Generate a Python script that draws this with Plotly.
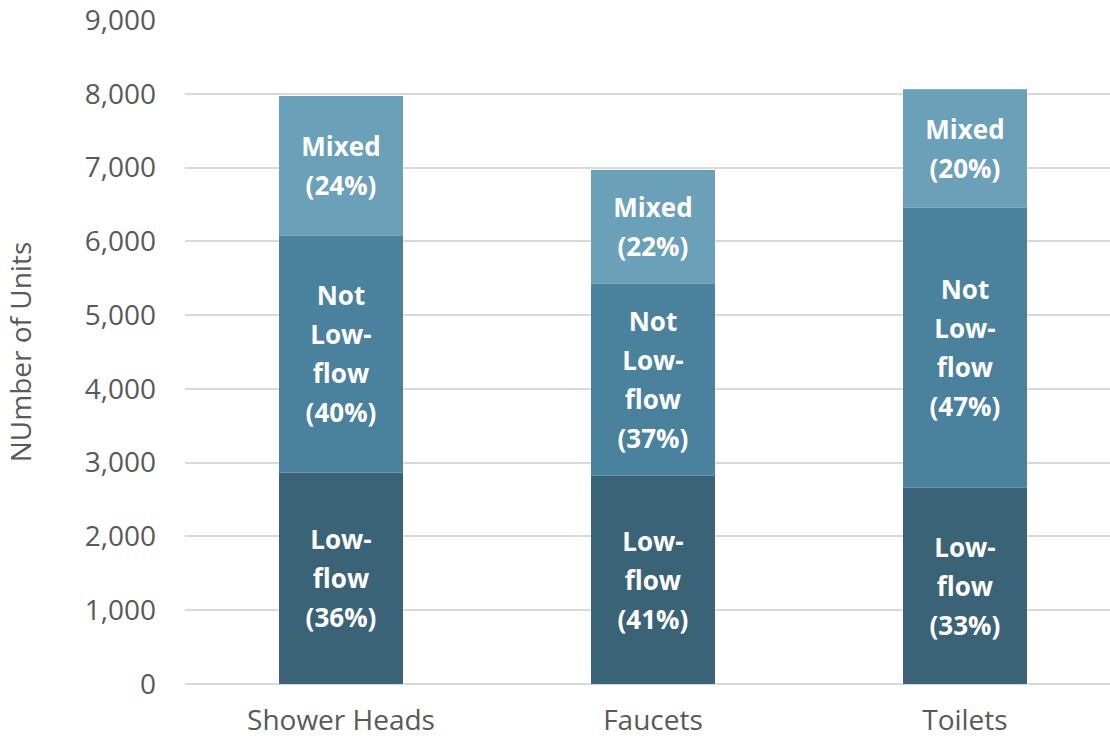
import plotly.graph_objects as go

categories = ["Shower Heads", "Faucets", "Toilets"]
series_names = ["Low-flow", "Not Low-flow", "Mixed"]
series_labels = [["Low-", "flow"], ["Not", "Low-", "flow"], ["Mixed"]]
low_flow = [2870, 2820, 2660]
not_low_flow = [3215, 2610, 3800]
mixed = [1885, 1540, 1600]
low_pct = [36, 41, 33]
not_low_pct = [40, 37, 47]
mixed_pct = [24, 22, 20]
colors = ["#3b6377", "#4a819d", "#6ba0b9"]
y_ticks = [0, 1000, 2000, 3000, 4000, 5000, 6000, 7000, 8000, 9000]

values = [low_flow, not_low_flow, mixed]
pcts = [low_pct, not_low_pct, mixed_pct]


def make_text(lines, pct):
    parts = lines + ["(%d%%)" % pct]
    return "<br>".join('<span style="font-size:26px">%s</span>' % p for p in parts)


fig = go.Figure()
for name, lines, vals, pc, col in zip(series_names, series_labels, values, pcts, colors):
    fig.add_trace(go.Bar(
        name=name,
        x=categories,
        y=vals,
        width=0.4,
        marker=dict(color=col, line=dict(color="rgba(255,255,255,0.18)", width=1)),
        text=[make_text(lines, p) for p in pc],
        textposition="inside",
        insidetextanchor="middle",
        textangle=0,
        textfont=dict(family="Open Sans", size=30, color="white", weight="bold"),
        hoverinfo="x+y+name",
    ))

fig.update_layout(
    barmode="stack",
    width=1110,
    height=739,
    margin=dict(l=185, r=0, t=20, b=55, autoexpand=False),
    paper_bgcolor="white",
    plot_bgcolor="white",
    showlegend=False,
    font=dict(family="Open Sans", color="#595959"),
    xaxis=dict(
        type="category",
        range=[-0.5, 2.465],
        automargin=False,
        showgrid=False,
        showline=False,
        zeroline=False,
        ticks="",
        tickfont=dict(size=28, color="#595959"),
        ticklabelstandoff=17,
        ticklabeloverflow="allow",
    ),
    yaxis=dict(
        range=[0, 9000],
        automargin=False,
        tickvals=y_ticks,
        tickformat=",",
        showgrid=True,
        gridcolor="#d9d9d9",
        gridwidth=1.5,
        zeroline=True,
        zerolinecolor="#d9d9d9",
        zerolinewidth=1.5,
        showline=False,
        ticks="",
        tickfont=dict(size=28, color="#595959"),
        ticklabelstandoff=28,
        ticklabeloverflow="allow",
        title=dict(text="NUmber of Units", font=dict(size=28, color="#595959"), standoff=44),
    ),
)

fig.write_html("out.html")
